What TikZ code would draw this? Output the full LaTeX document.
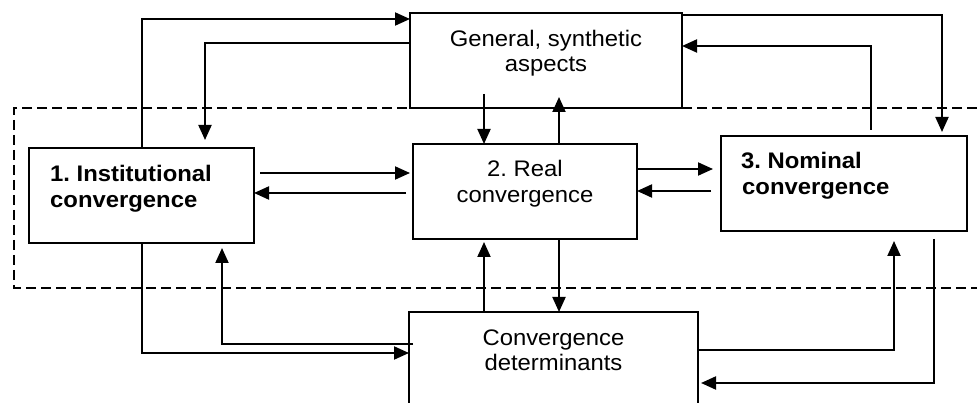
\documentclass[tikz,border=0pt]{standalone}
\usepackage{fontspec}
\setmainfont{Liberation Sans}[FakeStretch=1.06]
\usetikzlibrary{arrows.meta}
\frenchspacing
\begin{document}
\begin{tikzpicture}[x=1pt,y=-1pt,
  box/.style={draw, line width=1.6pt, inner sep=0pt, outer sep=0pt},
  conn/.style={line width=2pt, -{Triangle[length=15pt,width=13pt]}},
  lab/.style={inner sep=0pt, font=\fontsize{22.5}{26}\selectfont},
  blab/.style={inner sep=0pt, font=\fontsize{22.5}{26}\selectfont\bfseries},
  region/.style={line width=1.4pt, dash pattern=on 10pt off 5pt}]
\useasboundingbox (0,0) rectangle (977,403);
\clip (0,0) rectangle (977,403);

% dashed region
\draw[region] (977,108) -- (14,108) -- (14,288) -- (977,288);

% boxes
\node[box, minimum width=272pt, minimum height=95pt] (gen) at (546,60.5) {};
\node[box, minimum width=225pt, minimum height=95pt] (inst) at (141.5,195.5) {};
\node[box, minimum width=224pt, minimum height=95pt] (real) at (525,191.5) {};
\node[box, minimum width=246pt, minimum height=95pt] (nom) at (844,183.5) {};
\node[box, minimum width=289pt, minimum height=95pt] (det) at (553.5,359.5) {};

% texts
\node[lab, anchor=base] (gen1) at (546,47) {General, synthetic};
\node[lab, anchor=base] (gen2) at (546,72) {aspects};
\node[blab, anchor=base west] (inst1) at (50,182) {1. Institutional};
\node[blab, anchor=base west] (inst2) at (50,208) {convergence};
\node[lab, anchor=base] (real1) at (525,177) {2. Real};
\node[lab, anchor=base] (real2) at (525,203) {convergence};
\node[blab, anchor=base west] (nom1) at (741,169) {3. Nominal};
\node[blab, anchor=base west] (nom2) at (742,195) {convergence};
\node[lab, anchor=base] (det1) at (553.5,345) {Convergence};
\node[lab, anchor=base] (det2) at (553.5,370) {determinants};

% routing coordinates
\coordinate (xa) at (142,0);
\coordinate (xb) at (205,0);
\coordinate (xc) at (222,0);
\coordinate (xd) at (484,0);
\coordinate (xe) at (559,0);
\coordinate (xf) at (871,0);
\coordinate (xg) at (894,0);
\coordinate (xh) at (934,0);
\coordinate (xi) at (942,0);
\coordinate (ya) at (0,19);
\coordinate (yb) at (0,43);
\coordinate (yc) at (0,15);
\coordinate (yd) at (0,46);
\coordinate (ye) at (0,173);
\coordinate (yf) at (0,193);
\coordinate (yg) at (0,169);
\coordinate (yh) at (0,191);
\coordinate (yi) at (0,344);
\coordinate (yj) at (0,353);
\coordinate (yk) at (0,350);
\coordinate (yl) at (0,383);

% connectors
\draw[conn] (inst.north -| xa) -- (xa |- ya) -- (gen.west |- ya);
\draw[conn, shorten >=8pt] (gen.west |- yb) -| (xb |- inst.north);
\draw[conn, shorten <=-14pt] (xd |- gen.south) -- (xd |- real.north);
\draw[conn, shorten >=-11pt] (xe |- real.north) -- (xe |- gen.south);
\draw[conn, shorten >=4pt] (gen.east |- yc) -| (xi |- nom.north);
\draw[conn, shorten <=6pt] (xf |- nom.north) |- (gen.east |- yd);
\draw[conn, shorten <=6pt, shorten >=3pt] (inst.east |- ye) -- (real.west |- ye);
\draw[conn, shorten <=7pt] (real.west |- yf) -- (inst.east |- yf);
\draw[conn, shorten >=8pt] (real.east |- yg) -- (nom.west |- yg);
\draw[conn, shorten <=10pt] (nom.west |- yh) -- (real.east |- yh);
\draw[conn] (xe |- real.south) -- (xe |- det.north);
\draw[conn, shorten >=3pt] (xd |- det.north) -- (xd |- real.south);
\draw[conn] (xa |- inst.south) |- (det.west |- yj);
\draw[conn, shorten <=-4pt, shorten >=5pt] (det.west |- yi) -| (xc |- inst.south);
\draw[conn, shorten >=10pt] (det.east |- yk) -| (xg |- nom.south);
\draw[conn, shorten <=8pt, shorten >=3pt] (xh |- nom.south) |- (det.east |- yl);
\end{tikzpicture}
\end{document}
